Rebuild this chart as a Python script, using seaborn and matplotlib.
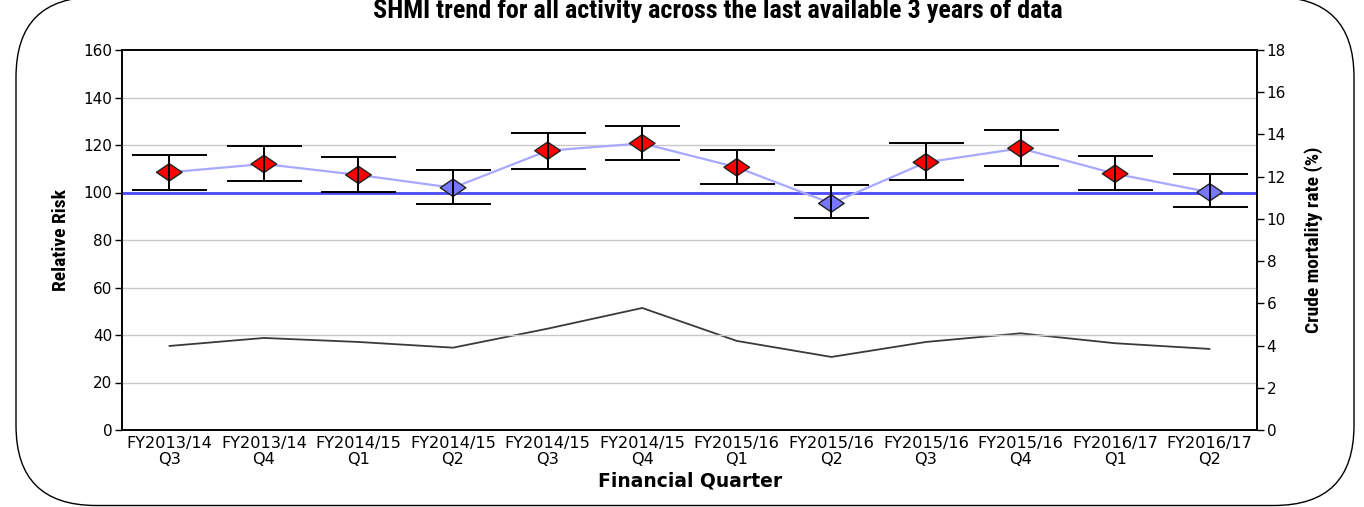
import matplotlib
matplotlib.use("Agg")
import matplotlib.pyplot as plt
from matplotlib import font_manager
from matplotlib.patches import FancyBboxPatch
from matplotlib.path import Path
import numpy as np
import pandas as pd
import seaborn as sns

# Financial quarters on the x axis
years = ["FY2013/14", "FY2013/14", "FY2014/15", "FY2014/15", "FY2014/15", "FY2014/15",
         "FY2015/16", "FY2015/16", "FY2015/16", "FY2015/16", "FY2016/17", "FY2016/17"]
quarters = ["Q3", "Q4", "Q1", "Q2", "Q3", "Q4", "Q1", "Q2", "Q3", "Q4", "Q1", "Q2"]

# SHMI relative risk with its confidence limits
shmi = [108.5, 112.0, 107.4, 102.0, 117.6, 120.7, 110.6, 95.4, 112.7, 118.6, 107.9, 100.1]
shmi_upper = [115.8, 119.6, 114.8, 109.5, 124.9, 128.1, 117.9, 103.0, 120.7, 126.4, 115.2, 107.9]
shmi_lower = [101.0, 104.7, 100.2, 95.2, 110.0, 113.7, 103.6, 89.4, 105.3, 111.0, 101.1, 94.0]

# Crude mortality rate (%)
crude = [3.98, 4.36, 4.17, 3.90, 4.80, 5.78, 4.22, 3.46, 4.17, 4.58, 4.11, 3.84]

baseline = 100

labels = [f"{y}\n{q}" for y, q in zip(years, quarters)]
df = pd.DataFrame({
    "pos": np.arange(len(labels)),
    "shmi": shmi,
    "upper": shmi_upper,
    "lower": shmi_lower,
    "crude": crude,
})
df["band"] = np.where(df["lower"] > baseline, "high", "normal")

sns.set_style("white")
plt.rcParams["font.family"] = ["DejaVu Sans"]
plt.rcParams["text.color"] = "black"
plt.rcParams["xtick.color"] = "black"
plt.rcParams["ytick.color"] = "black"

# Pick a narrow bold face for the headings if one is installed
names = {f.name for f in font_manager.fontManager.ttflist}
narrow_family = None
narrow_stretch = "normal"
for cand in ["Liberation Sans Narrow", "Arial Narrow", "Roboto Condensed",
             "Open Sans Condensed", "Noto Sans Condensed", "DejaVu Sans Condensed"]:
    if cand in names:
        narrow_family = cand
        break
if narrow_family is None:
    cond = [f for f in font_manager.fontManager.ttflist
            if str(f.stretch) in ("condensed", "semi-condensed", "extra-condensed")]
    if cond:
        narrow_family = cond[0].name
        narrow_stretch = "condensed"
    else:
        narrow_family = "DejaVu Sans"
narrow_scale = 1.0 if narrow_family != "DejaVu Sans" else 0.82

W, H = 1364, 507
fig = plt.figure(figsize=(W / 100, H / 100), dpi=100)
fig.patch.set_facecolor("white")

# Full-figure layer in pixel units for the rounded frame and headings
bg = fig.add_axes([0, 0, 1, 1], zorder=-5)
bg.set_xlim(0, W)
bg.set_ylim(H, 0)
bg.axis("off")
bg.add_patch(FancyBboxPatch((16, -3), 1354 - 16, 506 + 3 - 0.5,
                            boxstyle="round,pad=0,rounding_size=80",
                            facecolor="none", edgecolor="black", linewidth=1.0))

ax = fig.add_axes([122 / W, 1 - 430 / H, (1257 - 122) / W, (430 - 50) / H])
ax2 = ax.twinx()

ax.set_xlim(-0.5, len(labels) - 0.5)
ax.set_ylim(0, 160)
ax.set_yticks(np.arange(0, 161, 20))
ax2.set_ylim(0, 18)
ax2.set_yticks(np.arange(0, 19, 2))

for y in range(20, 160, 20):
    ax.axhline(y, color="#c8c8c8", linewidth=1.0, zorder=0)

ax.axhline(baseline, color="#4a4aff", linewidth=2.0, zorder=1)

# Crude mortality line on the secondary axis
sns.lineplot(data=df, x="pos", y="crude", ax=ax2, color="#3a3a3a", linewidth=1.3,
             legend=False)

# SHMI trend line
sns.lineplot(data=df, x="pos", y="shmi", ax=ax, color="#a8a8ff", linewidth=1.6,
             zorder=2, legend=False)

# Flattened diamond marker
diamond = Path([(-1, 0), (0, 0.68), (1, 0), (0, -0.68), (-1, 0)],
               [Path.MOVETO, Path.LINETO, Path.LINETO, Path.LINETO, Path.CLOSEPOLY])

# SHMI points coloured by whether the lower limit sits above the baseline
sns.scatterplot(data=df, x="pos", y="shmi", hue="band", ax=ax, marker=diamond, s=340,
                palette={"high": "#ff0000", "normal": "#7878ff"},
                edgecolor="#222222", linewidth=1.0, zorder=3, legend=False)

ax.errorbar(df["pos"], df["shmi"],
            yerr=[df["shmi"] - df["lower"], df["upper"] - df["shmi"]],
            fmt="none", ecolor="black", elinewidth=1.4, capsize=27, capthick=1.4,
            zorder=4)

ax.set_zorder(ax2.get_zorder() + 1)
ax.patch.set_visible(False)

ax.set_xticks(df["pos"])
ax.set_xticklabels(labels, fontsize=11.6, linespacing=1.1)
ax.tick_params(axis="x", length=3, width=1, pad=1)
ax.tick_params(axis="y", length=5, width=1, labelsize=11, pad=2, left=True)
ax2.tick_params(axis="y", length=5, width=1, labelsize=11, pad=2, right=True)
ax.set_xlabel("")
ax.set_ylabel("")
ax2.set_ylabel("")

for a in (ax, ax2):
    for s in a.spines.values():
        s.set_color("black")
        s.set_linewidth(1.2)
        s.set_visible(True)

head = dict(fontweight="bold", family=[narrow_family, "DejaVu Sans"],
            fontstretch=narrow_stretch)
bg.text(718, 18, "SHMI trend for all activity across the last available 3 years of data",
        ha="center", va="baseline", fontsize=18.8 * narrow_scale, **head)
bg.text(61, 240, "Relative Risk", rotation=90, ha="center", va="center",
        fontsize=14 * narrow_scale, **head)
bg.text(1314, 240, "Crude mortality rate (%)", rotation=90, ha="center",
        va="center", fontsize=14 * narrow_scale, **head)
bg.text(690, 481, "Financial Quarter", ha="center", va="center",
        fontsize=13.5, fontweight="bold")

fig.savefig("out.png", dpi=100, facecolor="white")
